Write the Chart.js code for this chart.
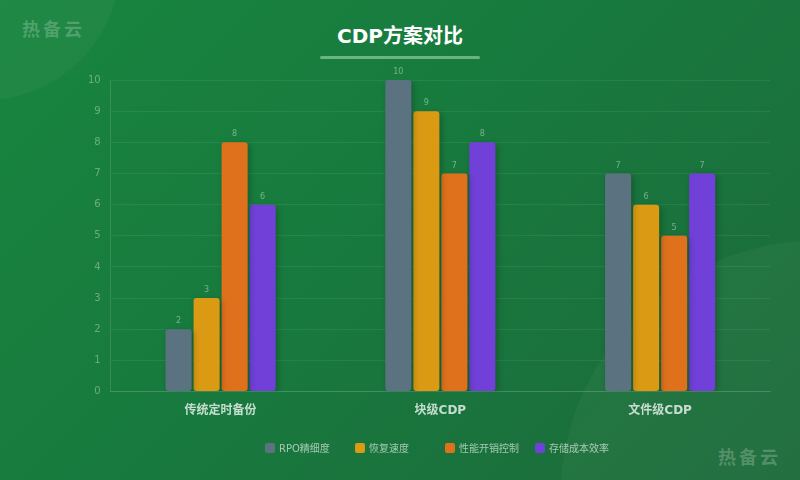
<!DOCTYPE html>
<html>
<head>
<meta charset="utf-8">
<script src="https://cdn.jsdelivr.net/npm/chart.js@4"></script>
<style>
  html, body { margin: 0; padding: 0; }
  body {
    width: 800px; height: 480px; overflow: hidden; position: relative;
    background: linear-gradient(135deg, #18853f 0%, #187a3e 45%, #1c6a3a 100%);
    font-family: "DejaVu Sans", "Noto Sans CJK SC", sans-serif;
  }
  .circle { position: absolute; border-radius: 50%; background: rgba(255,255,255,0.035); }
  .c1 { left: -150px; top: -170px; width: 270px; height: 270px; }
  .c2 { left: 560px; top: 240px; width: 520px; height: 520px; }
  .mark { position: absolute; font-size: 18px; font-weight: bold; letter-spacing: 3px;
          color: rgba(255,255,255,0.22); font-family: "Noto Sans CJK SC", sans-serif; }
  #title { position: absolute; top: 20px; left: 0; width: 800px; text-align: center;
           color: #fff; font-size: 20px; font-weight: bold; }
  #line { position: absolute; top: 56px; left: 320px; width: 160px; height: 3px;
          background: rgba(160,220,170,0.6); border-radius: 2px; }
  #chartBox { position: absolute; left: 0; top: 0; width: 800px; height: 480px; }
  #legend { position: absolute; top: 440px; left: 265px; display: flex; }
  .item { width: 90px; display: flex; align-items: center; font-size: 10px;
          color: rgba(255,255,255,0.6); }
  .box { width: 10px; height: 10px; border-radius: 2px; margin-right: 4px; }
</style>
</head>
<body>
<div class="circle c1"></div>
<div class="circle c2"></div>
<div class="mark" style="left:22px;top:15px;">热备云</div>
<div class="mark" style="left:718px;top:443px;">热备云</div>
<div id="title">CDP方案对比</div>
<div id="line"></div>
<div id="chartBox"><canvas id="cdpChart" width="800" height="480"></canvas></div>
<div id="legend"></div>
<script>
  // categories and series
  var schemes = ["传统定时备份", "块级CDP", "文件级CDP"];
  var seriesNames = ["RPO精细度", "恢复速度", "性能开销控制", "存储成本效率"];
  var rpoValues = [2, 10, 7];
  var recoveryValues = [3, 9, 6];
  var overheadValues = [8, 7, 5];
  var costValues = [6, 8, 7];
  var yTicks = [0, 1, 2, 3, 4, 5, 6, 7, 8, 9, 10];

  var barColors = ["#5b7380", "#db9a14", "#e0711c", "#7140d8"];
  var allValues = [rpoValues, recoveryValues, overheadValues, costValues];

  // small labels above each bar
  var valueLabels = {
    id: "valueLabels",
    afterDatasetsDraw: function (chart) {
      var ctx = chart.ctx;
      ctx.save();
      ctx.font = "8px 'DejaVu Sans'";
      ctx.fillStyle = "rgba(255,255,255,0.4)";
      ctx.textAlign = "center";
      ctx.textBaseline = "bottom";
      chart.data.datasets.forEach(function (ds, i) {
        chart.getDatasetMeta(i).data.forEach(function (bar, j) {
          ctx.fillText(ds.data[j], bar.x, bar.y - 4);
        });
      });
      ctx.restore();
    }
  };

  // soft shadow under bars
  var barShadow = {
    id: "barShadow",
    beforeDatasetsDraw: function (chart) {
      var ctx = chart.ctx;
      ctx.save();
      ctx.shadowColor = "rgba(0,0,0,0.25)";
      ctx.shadowBlur = 6;
      ctx.shadowOffsetX = 2;
      ctx.shadowOffsetY = 2;
    },
    afterDatasetsDraw: function (chart) {
      chart.ctx.restore();
    }
  };

  var datasets = seriesNames.map(function (name, i) {
    return {
      label: name,
      data: allValues[i],
      backgroundColor: barColors[i],
      borderRadius: 3,
      borderSkipped: false,
      barPercentage: 0.93,
      categoryPercentage: 0.51
    };
  });

  new Chart(document.getElementById("cdpChart"), {
    type: "bar",
    data: { labels: schemes, datasets: datasets },
    plugins: [barShadow, valueLabels],
    options: {
      responsive: false,
      animation: false,
      layout: { padding: { left: 78, right: 30, top: 80, bottom: 58 } },
      plugins: {
        legend: { display: false },
        tooltip: { enabled: false },
        title: { display: false }
      },
      scales: {
        x: {
          grid: { display: false },
          border: { color: "rgba(255,255,255,0.12)" },
          ticks: {
            color: "rgba(255,255,255,0.75)",
            font: { size: 12, weight: "bold", family: "'DejaVu Sans', 'Noto Sans CJK SC'" },
            padding: 4
          }
        },
        y: {
          min: 0,
          max: 10,
          afterBuildTicks: function (axis) {
            axis.ticks = yTicks.map(function (v) { return { value: v }; });
          },
          grid: { color: "rgba(255,255,255,0.07)", drawTicks: false },
          border: { color: "rgba(255,255,255,0.12)" },
          ticks: {
            color: "rgba(255,255,255,0.35)",
            font: { size: 10, family: "'DejaVu Sans'" },
            padding: 10
          }
        }
      }
    }
  });

  // legend with equal-width items
  var legend = document.getElementById("legend");
  seriesNames.forEach(function (name, i) {
    var item = document.createElement("div");
    item.className = "item";
    item.innerHTML = '<span class="box" style="background:' + barColors[i] + '"></span>' + name;
    legend.appendChild(item);
  });
</script>
</body>
</html>
